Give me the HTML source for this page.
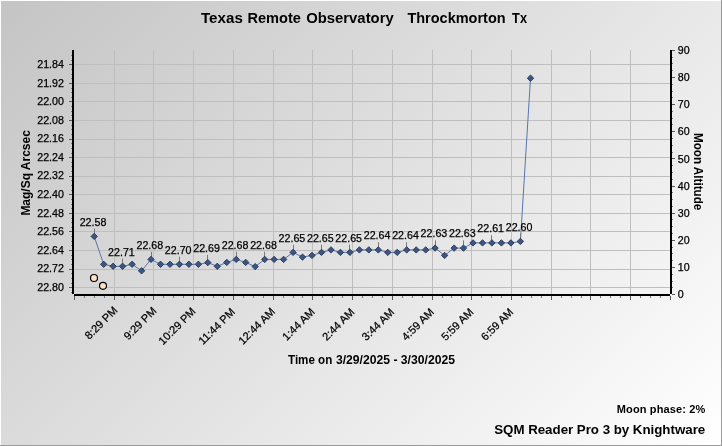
<!DOCTYPE html>
<html><head><meta charset="utf-8"><title>SQM Chart</title>
<style>
html,body{margin:0;padding:0;background:#fff;}
body{width:722px;height:446px;overflow:hidden;}
svg{display:block;will-change:transform;opacity:0.999;font-family:"Liberation Sans",Arial,sans-serif;}
.t{font-size:10.67px;fill:#000;stroke:#000;stroke-width:0.25px;}
.b{font-weight:bold;fill:#000;}
</style></head><body>
<svg width="722" height="446" viewBox="0 0 722 446">
<defs>
<linearGradient id="bg" gradientUnits="userSpaceOnUse" x1="0" y1="0" x2="584" y2="584">
<stop offset="0" stop-color="#c4c4c4"/><stop offset="1" stop-color="#ffffff"/></linearGradient>
</defs>
<rect x="0" y="0" width="722" height="446" fill="url(#bg)"/>
<rect x="0" y="0" width="722" height="1" fill="#fff"/><rect x="0" y="0" width="1" height="446" fill="#fff"/>
<rect x="0" y="445" width="722" height="1" fill="#9a9a9a"/><rect x="721" y="0" width="1" height="446" fill="#9a9a9a"/>
<g fill="#bebebe"><rect x="114" y="50" width="1" height="244"/><rect x="153" y="50" width="1" height="244"/><rect x="193" y="50" width="1" height="244"/><rect x="233" y="50" width="1" height="244"/><rect x="273" y="50" width="1" height="244"/><rect x="312" y="50" width="1" height="244"/><rect x="352" y="50" width="1" height="244"/><rect x="392" y="50" width="1" height="244"/><rect x="432" y="50" width="1" height="244"/><rect x="471" y="50" width="1" height="244"/><rect x="511" y="50" width="1" height="244"/><rect x="551" y="50" width="1" height="244"/><rect x="590" y="50" width="1" height="244"/><rect x="630" y="50" width="1" height="244"/><rect x="74" y="64" width="596" height="1"/><rect x="74" y="83" width="596" height="1"/><rect x="74" y="101" width="596" height="1"/><rect x="74" y="120" width="596" height="1"/><rect x="74" y="139" width="596" height="1"/><rect x="74" y="157" width="596" height="1"/><rect x="74" y="176" width="596" height="1"/><rect x="74" y="194" width="596" height="1"/><rect x="74" y="213" width="596" height="1"/><rect x="74" y="231" width="596" height="1"/><rect x="74" y="250" width="596" height="1"/><rect x="74" y="269" width="596" height="1"/><rect x="74" y="287" width="596" height="1"/></g>
<g fill="#000"><rect x="72" y="50" width="2" height="244"/><rect x="74" y="294" width="596" height="2"/><rect x="670" y="50" width="2" height="244"/></g>
<g fill="#5a5a5a"><rect x="69" y="64" width="3" height="1"/><rect x="69" y="83" width="3" height="1"/><rect x="69" y="101" width="3" height="1"/><rect x="69" y="120" width="3" height="1"/><rect x="69" y="139" width="3" height="1"/><rect x="69" y="157" width="3" height="1"/><rect x="69" y="176" width="3" height="1"/><rect x="69" y="194" width="3" height="1"/><rect x="69" y="213" width="3" height="1"/><rect x="69" y="231" width="3" height="1"/><rect x="69" y="250" width="3" height="1"/><rect x="69" y="269" width="3" height="1"/><rect x="69" y="287" width="3" height="1"/><rect x="672" y="50" width="3" height="1"/><rect x="672" y="77" width="3" height="1"/><rect x="672" y="104" width="3" height="1"/><rect x="672" y="131" width="3" height="1"/><rect x="672" y="158" width="3" height="1"/><rect x="672" y="186" width="3" height="1"/><rect x="672" y="213" width="3" height="1"/><rect x="672" y="240" width="3" height="1"/><rect x="672" y="267" width="3" height="1"/><rect x="672" y="294" width="3" height="1"/><rect x="74" y="296" width="1" height="4"/><rect x="114" y="296" width="1" height="4"/><rect x="153" y="296" width="1" height="4"/><rect x="193" y="296" width="1" height="4"/><rect x="233" y="296" width="1" height="4"/><rect x="273" y="296" width="1" height="4"/><rect x="312" y="296" width="1" height="4"/><rect x="352" y="296" width="1" height="4"/><rect x="392" y="296" width="1" height="4"/><rect x="432" y="296" width="1" height="4"/><rect x="471" y="296" width="1" height="4"/><rect x="511" y="296" width="1" height="4"/><rect x="551" y="296" width="1" height="4"/><rect x="590" y="296" width="1" height="4"/><rect x="630" y="296" width="1" height="4"/><rect x="670" y="296" width="1" height="4"/></g>
<g fill="#7a7a7a"><rect x="71" y="55" width="1" height="1"/><rect x="71" y="60" width="1" height="1"/><rect x="71" y="69" width="1" height="1"/><rect x="71" y="74" width="1" height="1"/><rect x="71" y="78" width="1" height="1"/><rect x="71" y="88" width="1" height="1"/><rect x="71" y="92" width="1" height="1"/><rect x="71" y="97" width="1" height="1"/><rect x="71" y="106" width="1" height="1"/><rect x="71" y="111" width="1" height="1"/><rect x="71" y="115" width="1" height="1"/><rect x="71" y="125" width="1" height="1"/><rect x="71" y="129" width="1" height="1"/><rect x="71" y="134" width="1" height="1"/><rect x="71" y="143" width="1" height="1"/><rect x="71" y="148" width="1" height="1"/><rect x="71" y="153" width="1" height="1"/><rect x="71" y="162" width="1" height="1"/><rect x="71" y="166" width="1" height="1"/><rect x="71" y="171" width="1" height="1"/><rect x="71" y="180" width="1" height="1"/><rect x="71" y="185" width="1" height="1"/><rect x="71" y="190" width="1" height="1"/><rect x="71" y="199" width="1" height="1"/><rect x="71" y="204" width="1" height="1"/><rect x="71" y="208" width="1" height="1"/><rect x="71" y="218" width="1" height="1"/><rect x="71" y="222" width="1" height="1"/><rect x="71" y="227" width="1" height="1"/><rect x="71" y="236" width="1" height="1"/><rect x="71" y="241" width="1" height="1"/><rect x="71" y="245" width="1" height="1"/><rect x="71" y="255" width="1" height="1"/><rect x="71" y="259" width="1" height="1"/><rect x="71" y="264" width="1" height="1"/><rect x="71" y="273" width="1" height="1"/><rect x="71" y="278" width="1" height="1"/><rect x="71" y="283" width="1" height="1"/><rect x="71" y="292" width="1" height="1"/><rect x="672" y="57" width="1" height="1"/><rect x="672" y="63" width="1" height="1"/><rect x="672" y="70" width="1" height="1"/><rect x="672" y="84" width="1" height="1"/><rect x="672" y="91" width="1" height="1"/><rect x="672" y="97" width="1" height="1"/><rect x="672" y="111" width="1" height="1"/><rect x="672" y="118" width="1" height="1"/><rect x="672" y="124" width="1" height="1"/><rect x="672" y="138" width="1" height="1"/><rect x="672" y="145" width="1" height="1"/><rect x="672" y="152" width="1" height="1"/><rect x="672" y="165" width="1" height="1"/><rect x="672" y="172" width="1" height="1"/><rect x="672" y="179" width="1" height="1"/><rect x="672" y="192" width="1" height="1"/><rect x="672" y="199" width="1" height="1"/><rect x="672" y="206" width="1" height="1"/><rect x="672" y="219" width="1" height="1"/><rect x="672" y="226" width="1" height="1"/><rect x="672" y="233" width="1" height="1"/><rect x="672" y="247" width="1" height="1"/><rect x="672" y="253" width="1" height="1"/><rect x="672" y="260" width="1" height="1"/><rect x="672" y="274" width="1" height="1"/><rect x="672" y="281" width="1" height="1"/><rect x="672" y="287" width="1" height="1"/><rect x="84" y="296" width="1" height="2"/><rect x="94" y="296" width="1" height="2"/><rect x="104" y="296" width="1" height="2"/><rect x="124" y="296" width="1" height="2"/><rect x="134" y="296" width="1" height="2"/><rect x="144" y="296" width="1" height="2"/><rect x="163" y="296" width="1" height="2"/><rect x="173" y="296" width="1" height="2"/><rect x="183" y="296" width="1" height="2"/><rect x="203" y="296" width="1" height="2"/><rect x="213" y="296" width="1" height="2"/><rect x="223" y="296" width="1" height="2"/><rect x="243" y="296" width="1" height="2"/><rect x="253" y="296" width="1" height="2"/><rect x="263" y="296" width="1" height="2"/><rect x="283" y="296" width="1" height="2"/><rect x="293" y="296" width="1" height="2"/><rect x="302" y="296" width="1" height="2"/><rect x="322" y="296" width="1" height="2"/><rect x="332" y="296" width="1" height="2"/><rect x="342" y="296" width="1" height="2"/><rect x="362" y="296" width="1" height="2"/><rect x="372" y="296" width="1" height="2"/><rect x="382" y="296" width="1" height="2"/><rect x="402" y="296" width="1" height="2"/><rect x="412" y="296" width="1" height="2"/><rect x="422" y="296" width="1" height="2"/><rect x="442" y="296" width="1" height="2"/><rect x="451" y="296" width="1" height="2"/><rect x="461" y="296" width="1" height="2"/><rect x="481" y="296" width="1" height="2"/><rect x="491" y="296" width="1" height="2"/><rect x="501" y="296" width="1" height="2"/><rect x="521" y="296" width="1" height="2"/><rect x="531" y="296" width="1" height="2"/><rect x="541" y="296" width="1" height="2"/><rect x="561" y="296" width="1" height="2"/><rect x="571" y="296" width="1" height="2"/><rect x="581" y="296" width="1" height="2"/><rect x="600" y="296" width="1" height="2"/><rect x="610" y="296" width="1" height="2"/><rect x="620" y="296" width="1" height="2"/><rect x="640" y="296" width="1" height="2"/><rect x="650" y="296" width="1" height="2"/><rect x="660" y="296" width="1" height="2"/></g>
<g class="t"><text x="63.9" y="67.9" text-anchor="end">21.84</text><text x="63.9" y="86.5" text-anchor="end">21.92</text><text x="63.9" y="105.0" text-anchor="end">22.00</text><text x="63.9" y="123.6" text-anchor="end">22.08</text><text x="63.9" y="142.2" text-anchor="end">22.16</text><text x="63.9" y="160.8" text-anchor="end">22.24</text><text x="63.9" y="179.4" text-anchor="end">22.32</text><text x="63.9" y="197.9" text-anchor="end">22.40</text><text x="63.9" y="216.5" text-anchor="end">22.48</text><text x="63.9" y="235.1" text-anchor="end">22.56</text><text x="63.9" y="253.7" text-anchor="end">22.64</text><text x="63.9" y="272.3" text-anchor="end">22.72</text><text x="63.9" y="290.8" text-anchor="end">22.80</text><text x="677.8" y="54.0">90</text><text x="677.8" y="81.1">80</text><text x="677.8" y="108.3">70</text><text x="677.8" y="135.4">60</text><text x="677.8" y="162.6">50</text><text x="677.8" y="189.8">40</text><text x="677.8" y="216.9">30</text><text x="677.8" y="244.0">20</text><text x="677.8" y="271.2">10</text><text x="677.8" y="298.3">0</text></g>
<g class="t"><text transform="translate(118.2,311.0) rotate(-45)" text-anchor="end" font-size="11px">8:29 PM</text><text transform="translate(157.2,311.6) rotate(-45)" text-anchor="end" font-size="11px">9:29 PM</text><text transform="translate(196.3,312.1) rotate(-45)" text-anchor="end" font-size="11px">10:29 PM</text><text transform="translate(235.8,312.6) rotate(-45)" text-anchor="end" font-size="11px">11:44 PM</text><text transform="translate(275.8,312.3) rotate(-45)" text-anchor="end" font-size="11px">12:44 AM</text><text transform="translate(315.4,312.6) rotate(-45)" text-anchor="end" font-size="11px">1:44 AM</text><text transform="translate(355.2,312.7) rotate(-45)" text-anchor="end" font-size="11px">2:44 AM</text><text transform="translate(394.9,312.8) rotate(-45)" text-anchor="end" font-size="11px">3:44 AM</text><text transform="translate(434.7,312.7) rotate(-45)" text-anchor="end" font-size="11px">4:59 AM</text><text transform="translate(474.2,312.7) rotate(-45)" text-anchor="end" font-size="11px">5:59 AM</text><text transform="translate(514.1,312.7) rotate(-45)" text-anchor="end" font-size="11px">6:59 AM</text></g>
<path d="M94.2,236.4 L103.7,264.3 L113.1,266.3 L122.6,266.3 L132.1,264.3 L141.6,270.8 L151.0,259.4 L160.5,264.3 L170.0,264.3 L179.4,264.3 L188.9,264.3 L198.4,264.3 L207.8,262.6 L217.3,266.3 L226.8,262.4 L236.2,259.4 L245.7,262.4 L255.2,266.6 L264.7,259.4 L274.1,259.4 L283.6,259.4 L293.1,252.4 L302.5,257.1 L312.0,255.4 L321.5,252.4 L331.0,249.9 L340.4,252.4 L349.9,252.4 L359.4,249.9 L368.8,249.9 L378.3,249.9 L387.8,252.4 L397.2,252.4 L406.7,249.9 L416.2,249.9 L425.7,249.9 L435.1,248.1 L444.6,255.4 L454.1,248.1 L463.5,248.1 L473.0,242.9 L482.5,242.9 L491.9,242.9 L501.4,242.9 L510.9,242.9 L520.4,241.4 L530.5,78.2" fill="none" stroke="#5876ad" stroke-width="1"/>
<g fill="#787878"><rect x="94" y="228.7" width="1" height="5"/><rect x="122" y="258.6" width="1" height="5"/><rect x="151" y="251.7" width="1" height="5"/><rect x="179" y="256.6" width="1" height="5"/><rect x="207" y="254.9" width="1" height="5"/><rect x="236" y="251.7" width="1" height="5"/><rect x="264" y="251.7" width="1" height="5"/><rect x="293" y="244.7" width="1" height="5"/><rect x="321" y="244.7" width="1" height="5"/><rect x="349" y="244.7" width="1" height="5"/><rect x="378" y="242.2" width="1" height="5"/><rect x="406" y="242.2" width="1" height="5"/><rect x="435" y="240.4" width="1" height="5"/><rect x="463" y="240.4" width="1" height="5"/><rect x="491" y="235.2" width="1" height="5"/><rect x="520" y="233.7" width="1" height="5"/></g>
<g fill="#3b5685" stroke="#1e2a45" stroke-width="0.8"><path d="M94.2,233.2 L97.4,236.4 L94.2,239.6 L91.0,236.4Z"/><path d="M103.7,261.1 L106.9,264.3 L103.7,267.5 L100.5,264.3Z"/><path d="M113.1,263.1 L116.3,266.3 L113.1,269.5 L109.9,266.3Z"/><path d="M122.6,263.1 L125.8,266.3 L122.6,269.5 L119.4,266.3Z"/><path d="M132.1,261.1 L135.3,264.3 L132.1,267.5 L128.9,264.3Z"/><path d="M141.6,267.6 L144.8,270.8 L141.6,274.0 L138.4,270.8Z"/><path d="M151.0,256.2 L154.2,259.4 L151.0,262.6 L147.8,259.4Z"/><path d="M160.5,261.1 L163.7,264.3 L160.5,267.5 L157.3,264.3Z"/><path d="M170.0,261.1 L173.2,264.3 L170.0,267.5 L166.8,264.3Z"/><path d="M179.4,261.1 L182.6,264.3 L179.4,267.5 L176.2,264.3Z"/><path d="M188.9,261.1 L192.1,264.3 L188.9,267.5 L185.7,264.3Z"/><path d="M198.4,261.1 L201.6,264.3 L198.4,267.5 L195.2,264.3Z"/><path d="M207.8,259.4 L211.0,262.6 L207.8,265.8 L204.6,262.6Z"/><path d="M217.3,263.1 L220.5,266.3 L217.3,269.5 L214.1,266.3Z"/><path d="M226.8,259.2 L230.0,262.4 L226.8,265.6 L223.6,262.4Z"/><path d="M236.2,256.2 L239.4,259.4 L236.2,262.6 L233.1,259.4Z"/><path d="M245.7,259.2 L248.9,262.4 L245.7,265.6 L242.5,262.4Z"/><path d="M255.2,263.4 L258.4,266.6 L255.2,269.8 L252.0,266.6Z"/><path d="M264.7,256.2 L267.9,259.4 L264.7,262.6 L261.5,259.4Z"/><path d="M274.1,256.2 L277.3,259.4 L274.1,262.6 L270.9,259.4Z"/><path d="M283.6,256.2 L286.8,259.4 L283.6,262.6 L280.4,259.4Z"/><path d="M293.1,249.2 L296.3,252.4 L293.1,255.6 L289.9,252.4Z"/><path d="M302.5,253.9 L305.7,257.1 L302.5,260.3 L299.3,257.1Z"/><path d="M312.0,252.2 L315.2,255.4 L312.0,258.6 L308.8,255.4Z"/><path d="M321.5,249.2 L324.7,252.4 L321.5,255.6 L318.3,252.4Z"/><path d="M331.0,246.7 L334.2,249.9 L331.0,253.1 L327.8,249.9Z"/><path d="M340.4,249.2 L343.6,252.4 L340.4,255.6 L337.2,252.4Z"/><path d="M349.9,249.2 L353.1,252.4 L349.9,255.6 L346.7,252.4Z"/><path d="M359.4,246.7 L362.6,249.9 L359.4,253.1 L356.2,249.9Z"/><path d="M368.8,246.7 L372.0,249.9 L368.8,253.1 L365.6,249.9Z"/><path d="M378.3,246.7 L381.5,249.9 L378.3,253.1 L375.1,249.9Z"/><path d="M387.8,249.2 L391.0,252.4 L387.8,255.6 L384.6,252.4Z"/><path d="M397.2,249.2 L400.4,252.4 L397.2,255.6 L394.0,252.4Z"/><path d="M406.7,246.7 L409.9,249.9 L406.7,253.1 L403.5,249.9Z"/><path d="M416.2,246.7 L419.4,249.9 L416.2,253.1 L413.0,249.9Z"/><path d="M425.7,246.7 L428.9,249.9 L425.7,253.1 L422.5,249.9Z"/><path d="M435.1,244.9 L438.3,248.1 L435.1,251.3 L431.9,248.1Z"/><path d="M444.6,252.2 L447.8,255.4 L444.6,258.6 L441.4,255.4Z"/><path d="M454.1,244.9 L457.3,248.1 L454.1,251.3 L450.9,248.1Z"/><path d="M463.5,244.9 L466.7,248.1 L463.5,251.3 L460.3,248.1Z"/><path d="M473.0,239.7 L476.2,242.9 L473.0,246.1 L469.8,242.9Z"/><path d="M482.5,239.7 L485.7,242.9 L482.5,246.1 L479.3,242.9Z"/><path d="M491.9,239.7 L495.1,242.9 L491.9,246.1 L488.7,242.9Z"/><path d="M501.4,239.7 L504.6,242.9 L501.4,246.1 L498.2,242.9Z"/><path d="M510.9,239.7 L514.1,242.9 L510.9,246.1 L507.7,242.9Z"/><path d="M520.4,238.2 L523.6,241.4 L520.4,244.6 L517.1,241.4Z"/><path d="M530.5,75.0 L533.7,78.2 L530.5,81.4 L527.3,78.2Z"/></g>
<g class="t"><text x="93.0" y="225.7" text-anchor="middle">22.58</text><text x="121.4" y="255.6" text-anchor="middle">22.71</text><text x="149.8" y="248.7" text-anchor="middle">22.68</text><text x="178.2" y="253.6" text-anchor="middle">22.70</text><text x="206.6" y="251.9" text-anchor="middle">22.69</text><text x="235.1" y="248.7" text-anchor="middle">22.68</text><text x="263.5" y="248.7" text-anchor="middle">22.68</text><text x="291.9" y="241.7" text-anchor="middle">22.65</text><text x="320.3" y="241.7" text-anchor="middle">22.65</text><text x="348.7" y="241.7" text-anchor="middle">22.65</text><text x="377.1" y="239.2" text-anchor="middle">22.64</text><text x="405.5" y="239.2" text-anchor="middle">22.64</text><text x="433.9" y="237.4" text-anchor="middle">22.63</text><text x="462.3" y="237.4" text-anchor="middle">22.63</text><text x="490.7" y="232.2" text-anchor="middle">22.61</text><text x="519.1" y="230.7" text-anchor="middle">22.60</text></g>
<g fill="#ffe2c6" stroke="#000" stroke-width="1.2"><circle cx="94" cy="278" r="3.5"/><circle cx="103" cy="285.8" r="3.5"/></g>
<text class="b" x="201.0" y="23" font-size="14.6px" textLength="41.8" lengthAdjust="spacingAndGlyphs">Texas</text>
<text class="b" x="247.4" y="23" font-size="14.6px" textLength="53.5" lengthAdjust="spacingAndGlyphs">Remote</text>
<text class="b" x="306.2" y="23" font-size="14.6px" textLength="87.5" lengthAdjust="spacingAndGlyphs">Observatory</text>
<text class="b" x="407.4" y="23" font-size="14.6px" textLength="98.2" lengthAdjust="spacingAndGlyphs">Throckmorton</text>
<text class="b" x="512.1" y="23" font-size="14.6px" textLength="14.9" lengthAdjust="spacingAndGlyphs">Tx</text>
<text class="b" x="288" y="363.7" font-size="12px" textLength="44.3" lengthAdjust="spacingAndGlyphs">Time on</text>
<text class="b" x="335.9" y="363.7" font-size="12px" textLength="119.1" lengthAdjust="spacingAndGlyphs">3/29/2025 - 3/30/2025</text>
<text class="b" x="616.8" y="412.6" font-size="11px" textLength="88.4" lengthAdjust="spacing">Moon phase: 2%</text>
<text class="b" x="494.2" y="433.6" font-size="13.33px" textLength="211" lengthAdjust="spacing">SQM Reader Pro 3 by Knightware</text>
<text class="b" transform="translate(30.3,215.6) rotate(-90)" font-size="12px" textLength="85.4" lengthAdjust="spacingAndGlyphs">Mag/Sq Arcsec</text>
<text class="b" transform="translate(693.6,132.9) rotate(90)" font-size="12px" textLength="77.4" lengthAdjust="spacingAndGlyphs">Moon Altitude</text>
</svg></body></html>
